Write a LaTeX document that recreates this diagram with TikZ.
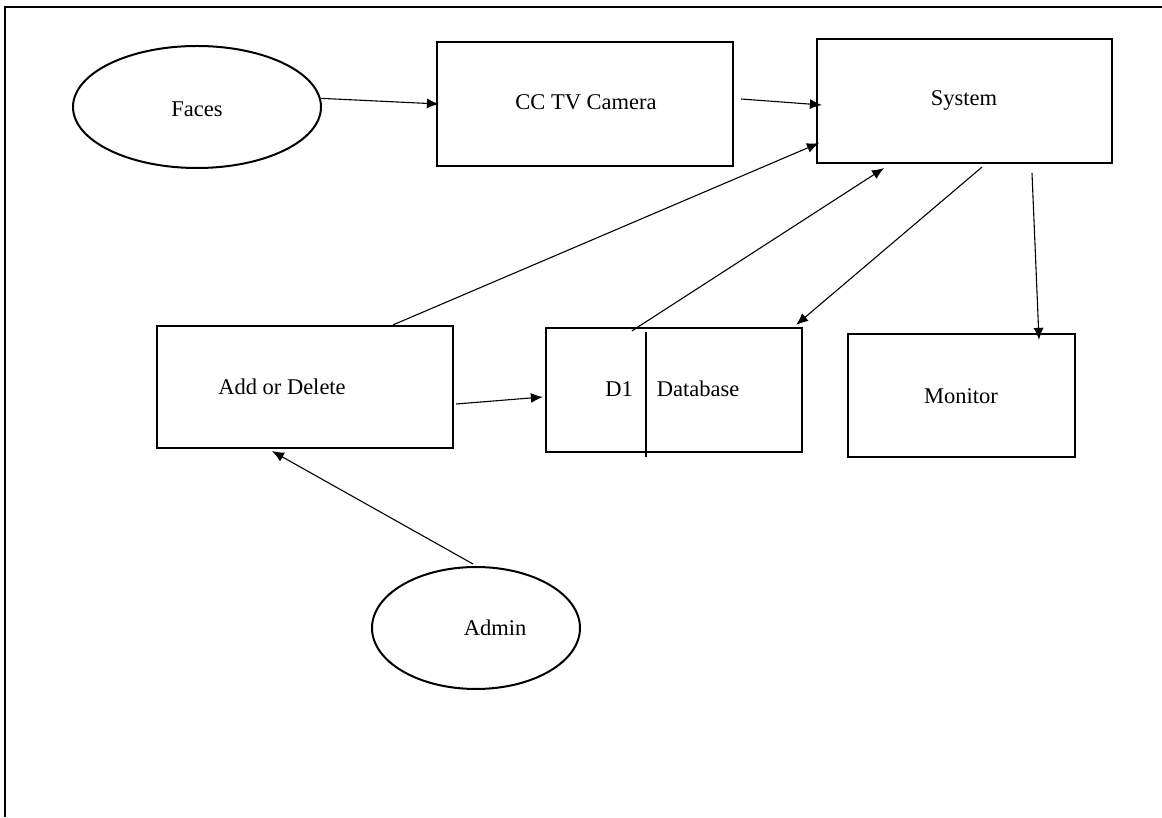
\documentclass[tikz,border=0pt]{standalone}
\usepackage{fontspec}
\setmainfont{Liberation Serif}
\usetikzlibrary{arrows.meta,shapes.geometric}

\tikzset{
  box/.style={draw, line width=2.2pt, rectangle, inner sep=0pt},
  oval/.style={draw, line width=2pt, ellipse, inner sep=0pt},
  txt/.style={inner sep=0pt, font=\fontsize{22.5}{26}\selectfont},
  flow/.style={line width=1.1pt, -{Latex[length=12pt,width=10pt]}},
}

\begin{document}
\begin{tikzpicture}[x=1pt,y=1pt]
  \useasboundingbox (0,0) rectangle (1162,817);
  % page frame (top and left rules)
  \draw[line width=2pt] (5,0) -- (5,810) -- (1162,810);

  % external entities
  \node[oval, minimum width=248pt, minimum height=122pt] (faces) at (197,710) {};
  \node[txt] (facesT) at (197,708) {Faces};
  \node[oval, minimum width=208pt, minimum height=122pt] (admin) at (476,189) {};
  \node[txt] (adminT) at (495,189) {Admin};

  % processes
  \node[box, minimum width=296pt, minimum height=124pt] (cctv) at (585,713) {};
  \node[txt] (cctvT) at (586,715) {CC TV Camera};
  \node[box, minimum width=295pt, minimum height=124pt] (sys) at (964.5,716) {};
  \node[txt] (sysT) at (964,717) {System};
  \node[box, minimum width=296pt, minimum height=122pt] (add) at (305,430) {};
  \node[txt] (addT) at (282,430) {Add or Delete};
  \node[box, minimum width=227pt, minimum height=123pt] (mon) at (961.5,421.5) {};
  \node[txt] (monT) at (961,421) {Monitor};

  % data store
  \node[box, minimum width=256pt, minimum height=124pt] (db) at (674,427) {};
  \draw[line width=1.3pt] ([xshift=-28pt,yshift=-5pt]db.north) -- ([xshift=-28pt,yshift=-4pt]db.south);
  \node[txt] (dbid) at (619,428) {D1};
  \node[txt] (dbT) at (698,428) {Database};

  % data flows
  \draw[flow] (faces.4.6) -- ([xshift=3pt]cctv.west);
  \draw[flow] ([xshift=7pt,yshift=5pt]cctv.east) -- ([xshift=6pt,yshift=-4pt]sys.west);
  \draw[flow] ([xshift=88pt]add.north) -- ([xshift=3pt,yshift=21pt]sys.south west);
  \draw[flow] ([xshift=87pt,yshift=-4pt]db.north west) -- ([xshift=-80.5pt,yshift=-4pt]sys.south);
  \draw[flow] ([xshift=17.5pt,yshift=-3pt]sys.south) -- ([xshift=-7pt,yshift=2pt]db.north east);
  \draw[flow] ([xshift=67.5pt,yshift=-9pt]sys.south) -- ([xshift=77.5pt,yshift=-7pt]mon.north);
  \draw[flow] ([xshift=2pt,yshift=-17pt]add.east) -- ([xshift=-2pt,yshift=-7pt]db.west);
  \draw[flow] ([xshift=-3pt,yshift=2pt]admin.north) -- ([xshift=-33pt,yshift=-2pt]add.south);
\end{tikzpicture}
\end{document}
